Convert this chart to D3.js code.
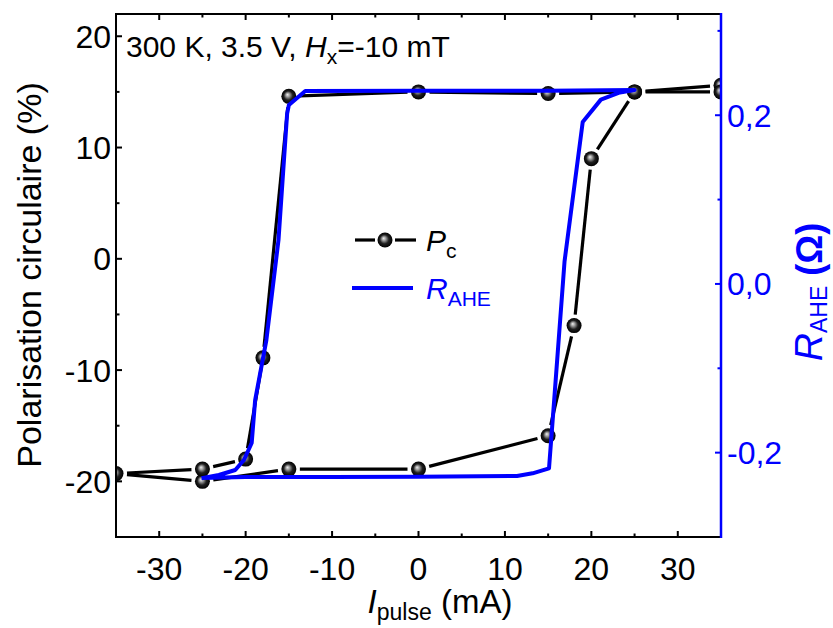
<!DOCTYPE html>
<html>
<head>
<meta charset="utf-8">
<script src="https://cdn.jsdelivr.net/npm/d3@7"></script>
<style>
  html, body { margin: 0; padding: 0; background: #fff; }
  svg { display: block; }
  text { font-family: "Liberation Sans", Arial, sans-serif; }
</style>
</head>
<body>
<svg id="chart" width="833" height="628"></svg>
<script>
// ---------------- data ----------------
const pcCurrent = [35, 25, 20, 18, 15, 0, -15, -25, -35, -25, -20, -18, -15, 0, 15, 25, 35];
const pcValue   = [15.6, 15.0, 9.0, -6.0, -15.9, -18.9, -18.9, -20.0, -19.3, -18.9, -18.0, -8.9, 14.6, 15.0, 14.85, 15.0, 15.0];

const rCurrent = [-25.1, -20, -10, 0, 11.4, 13.2, 15.1, 15.7, 16.9, 19.0, 21.1, 23.3, 25.0,
                  15, 0, -13.1, -15.0, -15.2, -16.2, -17.6, -18.9, -19.3, -20.2, -21.2, -23.1, -25.1];
const rValue   = [-0.230, -0.229, -0.229, -0.2285, -0.2277, -0.2245, -0.2186, -0.1376, 0.027, 0.192, 0.2185, 0.227, 0.230,
                  0.229, 0.229, 0.2287, 0.212, 0.202, 0.052, -0.0665, -0.1376, -0.1886, -0.2087, -0.2206, -0.2265, -0.2304];

const xTicks = [-30, -20, -10, 0, 10, 20, 30];
const yLeftTicks = [-20, -10, 0, 10, 20];
const yRightTicks = [-0.2, 0.0, 0.2];
const yRightTickLabels = ["-0,2", "0,0", "0,2"];

// ---------------- layout ----------------
const svg = d3.select("#chart");
const L = 116, R = 721, T = 14, B = 537;
const x = d3.scaleLinear().domain([-35, 35]).range([L, R]);
const yL = d3.scaleLinear().domain([-25, 22]).range([B, T]);
const yR = d3.scaleLinear().domain([-0.3, 0.32]).range([B, T]);
const blue = "#0000ff";

const defs = svg.append("defs");
defs.append("clipPath").attr("id", "plotclip")
  .append("rect").attr("x", L).attr("y", T).attr("width", R - L).attr("height", B - T);
const grad = defs.append("radialGradient").attr("id", "sphere")
  .attr("cx", "50%").attr("cy", "50%").attr("r", "50%").attr("fx", "40%").attr("fy", "38%");
grad.append("stop").attr("offset", "0%").attr("stop-color", "#f0f0f0");
grad.append("stop").attr("offset", "25%").attr("stop-color", "#a0a0a0");
grad.append("stop").attr("offset", "60%").attr("stop-color", "#202020");
grad.append("stop").attr("offset", "100%").attr("stop-color", "#000");

// ---------------- data marks ----------------
const plot = svg.append("g").attr("clip-path", "url(#plotclip)");

// black line with gaps near markers
const gap = 11;
const pts = pcCurrent.map((c, i) => [x(c), yL(pcValue[i])]);
const segs = [];
for (let i = 0; i < pts.length - 1; i++) {
  const [x0, y0] = pts[i], [x1, y1] = pts[i + 1];
  const len = Math.hypot(x1 - x0, y1 - y0);
  if (len <= 2 * gap + 1) continue;
  const ux = (x1 - x0) / len, uy = (y1 - y0) / len;
  segs.push([x0 + ux * gap, y0 + uy * gap, x1 - ux * gap, y1 - uy * gap]);
}
plot.selectAll("line.pc").data(segs).join("line").attr("class", "pc")
  .attr("x1", d => d[0]).attr("y1", d => d[1]).attr("x2", d => d[2]).attr("y2", d => d[3])
  .attr("stroke", "#000").attr("stroke-width", 3.2);

plot.selectAll("circle.pc").data(pcCurrent.map((c, i) => ({c, v: pcValue[i]}))).join("circle")
  .attr("class", "pc")
  .attr("cx", d => x(d.c)).attr("cy", d => yL(d.v)).attr("r", 7.5)
  .attr("fill", "url(#sphere)");

// blue R_AHE line
const rLine = d3.line().x(d => x(d.c)).y(d => yR(d.v));
plot.append("path")
  .datum(rCurrent.map((c, i) => ({c, v: rValue[i]})))
  .attr("d", rLine)
  .attr("fill", "none").attr("stroke", blue).attr("stroke-width", 4)
  .attr("stroke-linejoin", "round");

// ---------------- axes ----------------
const axes = svg.append("g");
const major = 6, minor = 3.5;
const tickFont = 32;

// bottom / top axis
d3.range(-35, 36, 5).forEach(v => {
  const isMaj = xTicks.includes(v);
  const len = isMaj ? major : minor;
  axes.append("line").attr("x1", x(v)).attr("x2", x(v)).attr("y1", B).attr("y2", B - len)
    .attr("stroke", "#000").attr("stroke-width", 2);
  axes.append("line").attr("x1", x(v)).attr("x2", x(v)).attr("y1", T).attr("y2", T + len)
    .attr("stroke", "#000").attr("stroke-width", 2);
});
xTicks.forEach(v => {
  axes.append("text").attr("x", x(v)).attr("y", 580).attr("text-anchor", "middle")
    .attr("font-size", tickFont).attr("fill", "#000").text(v);
});

// left axis
d3.range(-25, 22.01, 5).forEach(v => {
  const isMaj = yLeftTicks.includes(v);
  const len = isMaj ? major : minor;
  axes.append("line").attr("x1", L).attr("x2", L + len).attr("y1", yL(v)).attr("y2", yL(v))
    .attr("stroke", "#000").attr("stroke-width", 2);
});
yLeftTicks.forEach(v => {
  axes.append("text").attr("x", 111).attr("y", yL(v) + 11.5).attr("text-anchor", "end")
    .attr("font-size", tickFont).attr("fill", "#000").text(v);
});

// right axis
d3.range(-0.3, 0.321, 0.1).forEach(v => {
  const isMaj = yRightTicks.some(t => Math.abs(t - v) < 1e-6);
  const len = isMaj ? major : minor;
  axes.append("line").attr("x1", R).attr("x2", R - len).attr("y1", yR(v)).attr("y2", yR(v))
    .attr("stroke", blue).attr("stroke-width", 2);
});
yRightTicks.forEach((v, i) => {
  axes.append("text").attr("x", 727).attr("y", yR(v) + 11.5).attr("text-anchor", "start")
    .attr("font-size", tickFont).attr("fill", blue).text(yRightTickLabels[i]);
});

// frame
axes.append("path").attr("d", `M${R},${T}H${L}V${B}H${R}`)
  .attr("fill", "none").attr("stroke", "#000").attr("stroke-width", 2);
axes.append("line").attr("x1", R).attr("x2", R).attr("y1", T - 1).attr("y2", B + 1)
  .attr("stroke", blue).attr("stroke-width", 2.5);

// ---------------- titles ----------------
const xt = svg.append("text").attr("x", 440).attr("y", 613).attr("text-anchor", "middle")
  .attr("font-size", 33).attr("fill", "#000");
xt.append("tspan").attr("font-style", "italic").text("I");
xt.append("tspan").attr("font-size", 23).attr("dy", 7).text("pulse");
xt.append("tspan").attr("dy", -7).text(" (mA)");

svg.append("text").attr("transform", "translate(41,275) rotate(-90)")
  .attr("text-anchor", "middle").attr("font-size", 34).attr("fill", "#000")
  .text("Polarisation circulaire (%)");

const yt = svg.append("text").attr("transform", "translate(822,292) rotate(-90)")
  .attr("text-anchor", "middle").attr("font-size", 39).attr("fill", blue);
yt.append("tspan").attr("font-style", "italic").text("R");
yt.append("tspan").attr("font-size", 23).attr("dy", 5).text("AHE");
yt.append("tspan").attr("dy", -5).attr("font-weight", "bold").attr("font-size", 36).text(" (Ω)");

const tt = svg.append("text").attr("x", 126).attr("y", 57).attr("font-size", 30).attr("fill", "#000");
tt.append("tspan").text("300 K, 3.5 V, ");
tt.append("tspan").attr("font-style", "italic").text("H");
tt.append("tspan").attr("font-size", 21).attr("dy", 7).text("x");
tt.append("tspan").attr("dy", -7).text("=-10 mT");

// ---------------- legend ----------------
const lg = svg.append("g");
lg.append("line").attr("x1", 355).attr("x2", 375).attr("y1", 240).attr("y2", 240)
  .attr("stroke", "#000").attr("stroke-width", 3.2);
lg.append("line").attr("x1", 395).attr("x2", 416).attr("y1", 240).attr("y2", 240)
  .attr("stroke", "#000").attr("stroke-width", 3.2);
lg.append("circle").attr("cx", 385).attr("cy", 240).attr("r", 7.5).attr("fill", "url(#sphere)");
const l1 = lg.append("text").attr("x", 426).attr("y", 251).attr("font-size", 30).attr("fill", "#000");
l1.append("tspan").attr("font-style", "italic").text("P");
l1.append("tspan").attr("font-size", 21).attr("dy", 7).text("c");

lg.append("line").attr("x1", 352).attr("x2", 413).attr("y1", 288).attr("y2", 288)
  .attr("stroke", blue).attr("stroke-width", 4);
const l2 = lg.append("text").attr("x", 426).attr("y", 299).attr("font-size", 30).attr("fill", blue);
l2.append("tspan").attr("font-style", "italic").text("R");
l2.append("tspan").attr("font-size", 21).attr("dy", 7).text("AHE");
</script>
</body>
</html>
